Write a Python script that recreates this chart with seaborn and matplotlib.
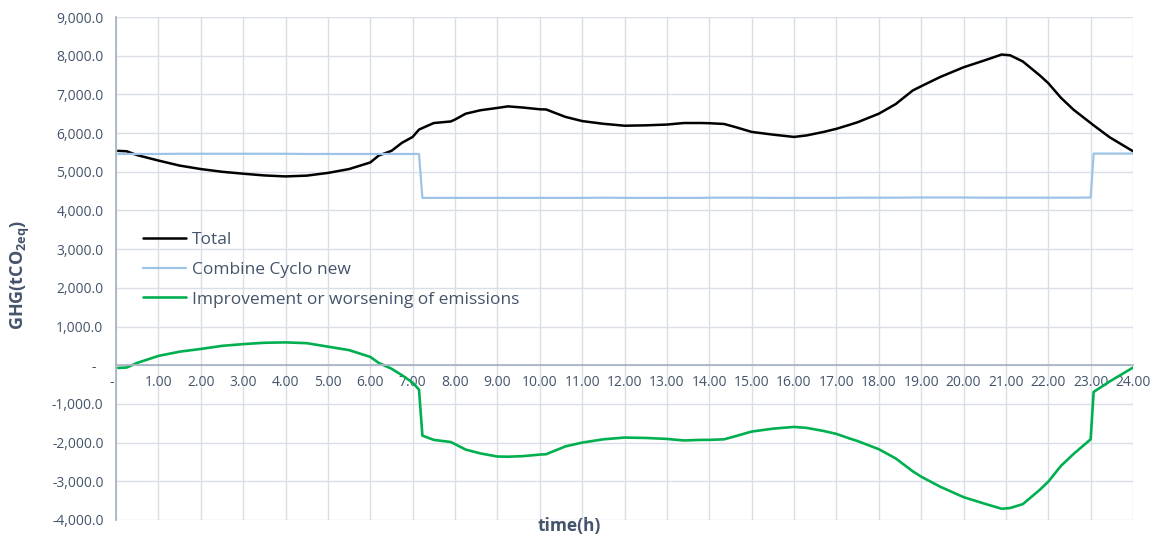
import seaborn as sns
import matplotlib.pyplot as plt
from matplotlib.ticker import MultipleLocator, FuncFormatter

# hour of day
hours = [0.05, 0.25, 0.5, 1.0, 1.5, 2.0, 2.5, 3.0, 3.5, 4.0,
         4.5, 5.0, 5.5, 6.0, 6.2, 6.5, 6.75, 7.0, 7.15, 7.23,
         7.5, 7.9, 8.0, 8.25, 8.6, 9.0, 9.25, 9.6, 10.0, 10.15,
         10.6, 11.0, 11.5, 12.0, 12.5, 13.0, 13.4, 13.8, 14.0, 14.35,
         14.6, 15.0, 15.5, 16.0, 16.3, 16.7, 17.0, 17.3, 17.5, 18.0,
         18.4, 18.8, 19.0, 19.45, 20.0, 20.5, 20.9, 21.1, 21.4, 21.8,
         22.0, 22.3, 22.6, 23.0, 23.07, 23.45, 24.0]

# GHG (tCO2eq)
total = [5540, 5530, 5430, 5290, 5160, 5070, 5000, 4950, 4905, 4880,
         4900, 4970, 5070, 5240, 5420, 5540, 5750, 5900, 6090, 6130,
         6260, 6300, 6350, 6500, 6590, 6650, 6690, 6660, 6615, 6610,
         6420, 6310, 6240, 6190, 6200, 6220, 6260, 6260, 6255, 6235,
         6160, 6030, 5960, 5900, 5940, 6030, 6110, 6210, 6280, 6500,
         6750, 7100, 7210, 7450, 7700, 7880, 8030, 8010, 7850, 7490,
         7290, 6910, 6600, 6260, 6200, 5890, 5530]

cyclo = [5460, 5460, 5460, 5460, 5465, 5465, 5465, 5465, 5465, 5465,
         5460, 5460, 5460, 5460, 5460, 5460, 5460, 5460, 5460, 4325,
         4325, 4325, 4325, 4325, 4325, 4325, 4325, 4325, 4325, 4325,
         4325, 4325, 4330, 4325, 4325, 4325, 4325, 4325, 4330, 4330,
         4330, 4330, 4325, 4325, 4325, 4325, 4325, 4330, 4330, 4330,
         4330, 4335, 4335, 4335, 4335, 4330, 4330, 4330, 4330, 4330,
         4330, 4330, 4330, 4335, 5470, 5470, 5470]

change = [-70, -60, 60, 240, 350, 420, 500, 545, 580, 590,
          570, 480, 390, 215, 60, -90, -260, -450, -630, -1820,
          -1930, -1985, -2040, -2180, -2280, -2360, -2365, -2350, -2310, -2300,
          -2100, -2000, -1915, -1870, -1880, -1905, -1945, -1930, -1930, -1915,
          -1840, -1715, -1640, -1595, -1620, -1700, -1775, -1890, -1960, -2170,
          -2410, -2740, -2880, -3140, -3410, -3580, -3710, -3690, -3590, -3220,
          -3010, -2600, -2290, -1915, -690, -420, -60]

labels = ['Total', 'Combine Cyclo new', 'Improvement or worsening of emissions']
colors = ['#000000', '#9DC3E6', '#00B050']

sns.set_theme(style='white')
plt.rcParams['font.family'] = ['Open Sans', 'DejaVu Sans']
plt.rcParams['mathtext.fontset'] = 'custom'
plt.rcParams['mathtext.rm'] = 'Open Sans'
plt.rcParams['mathtext.bf'] = 'Open Sans:bold'

text_color = '#44546A'
grid_color = '#D9DEE7'
axis_color = '#A9B4C6'

fig = plt.figure(figsize=(11.59, 5.38), dpi=100)
ax = fig.add_axes([0.1001, 0.0335, 0.8775, 0.9349])

for vals, lab, col, lw in zip([total, cyclo, change], labels, colors, [1.8, 1.6, 1.9]):
    sns.lineplot(x=hours, y=vals, ax=ax, color=col, linewidth=lw, label=lab)

ax.set_xlim(0, 24)
ax.set_ylim(-4000, 9000)
ax.xaxis.set_major_locator(MultipleLocator(1))
ax.yaxis.set_major_locator(MultipleLocator(1000))
ax.xaxis.set_major_formatter(FuncFormatter(lambda v, p: '-  ' if v == 0 else f'{v:.2f}'))
ax.yaxis.set_major_formatter(FuncFormatter(lambda v, p: '-  ' if v == 0 else f'{v:,.1f}'))

ax.grid(True, color=grid_color, linewidth=1.0)
ax.set_axisbelow(True)
for s in ['top', 'right']:
    ax.spines[s].set_visible(False)
ax.spines['bottom'].set_position(('data', 0))
ax.spines['bottom'].set_color(axis_color)
ax.spines['bottom'].set_linewidth(1.3)
ax.spines['left'].set_color(axis_color)
ax.spines['left'].set_linewidth(1.3)

ax.tick_params(axis='both', length=0, labelcolor=text_color, labelsize=10)
ax.tick_params(axis='x', pad=7)
ax.tick_params(axis='y', pad=9)

ax.set_xlabel('time(h)', fontsize=12.5, fontweight='bold', color=text_color)
ax.xaxis.set_label_coords(0.446, 0.006)
ax.set_ylabel(r'GHG(tCO$_\mathbf{2eq}$)', fontsize=13, fontweight='bold', color=text_color)
ax.yaxis.set_label_coords(-0.083, 0.487)

ax.legend(loc='upper left', bbox_to_anchor=(0.0265, 0.5725), frameon=False,
          fontsize=12.5, handlelength=2.5, handletextpad=0.3, labelspacing=0.78,
          borderaxespad=0, borderpad=0, labelcolor=text_color)

plt.savefig('out.png', dpi=100)
